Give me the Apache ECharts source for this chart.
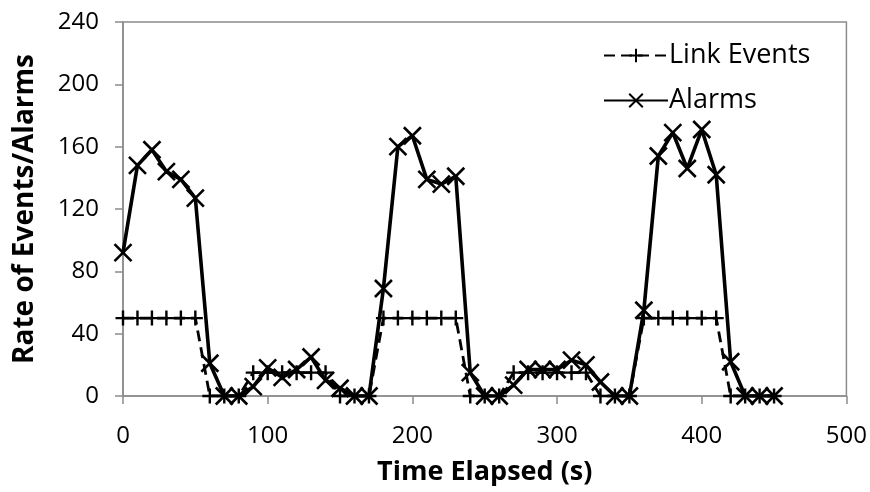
<!DOCTYPE html>
<html>
<head>
<meta charset="utf-8">
<script src="https://cdn.jsdelivr.net/npm/echarts@6/dist/echarts.min.js"></script>
<style>
html,body{margin:0;padding:0;background:#fff;}
#c{width:870px;height:492px;}
</style>
</head>
<body>
<div id="c"></div>
<script>
// Time (s)
var linkTimes = [0,10,20,30,40,50,60,70,80,90,100,110,120,130,140,150,160,170,180,190,200,210,220,230,240,250,260,270,280,290,300,310,320,330,340,350,360,370,380,390,400,410,420,430,440,450];
var linkEvents = [50,50,50,50,50,50,0,0,0,15,15,15,15,15,15,0,0,0,50,50,50,50,50,50,0,0,0,15,15,15,15,15,15,0,0,0,50,50,50,50,50,50,0,0,0,0];
var alarmTimes = [0,10,20,30,40,50,60,70,80,90,100,110,120,130,140,150,160,170,180,190,200,210,220,230,240,250,260,270,280,290,300,310,320,330,340,350,360,370,380,390,400,410,420,430,440,450];
var alarms = [92,148,158,144,139,127,21,0,0,6,18,12,17,25,10,5,0,0,69,160,167,139,136,141,15,0,0,7,17,17,17,23,20,9,0,0,55,154,169,146,171,142,22,0,0,0];
var xTicks = [0,100,200,300,400,500];
var yTicks = [0,40,80,120,160,200,240];

function pairs(xs, ys){ return xs.map(function(x,i){ return [x, ys[i]]; }); }

var FONT = 'Open Sans';
var chart = echarts.init(document.getElementById('c'), null, {renderer:'canvas'});
chart.setOption({
  animation:false,
  backgroundColor:'#fff',
  grid:{left:123, right:22, top:22, bottom:96, show:true, borderColor:'#8c8c8c', borderWidth:1.5, backgroundColor:'transparent'},
  legend:{
    orient:'vertical', left:598, top:37, itemGap:18, itemWidth:64, itemHeight:17,
    textStyle:{fontFamily:FONT, fontSize:27, color:'#000', padding:[0,0,0,-4]},
    data:['Link Events','Alarms']
  },
  xAxis:{
    type:'value', min:xTicks[0], max:xTicks[xTicks.length-1], interval:100,
    axisLine:{show:true, lineStyle:{color:'#8c8c8c', width:1.5}},
    axisTick:{show:true, length:8, lineStyle:{color:'#8c8c8c', width:1.5}},
    splitLine:{show:false},
    axisLabel:{fontFamily:FONT, fontSize:24, color:'#000', margin:28},
    name:'Time Elapsed (s)', nameLocation:'middle', nameGap:63,
    nameTextStyle:{fontFamily:FONT, fontSize:27, fontWeight:'bold', color:'#000'}
  },
  yAxis:{
    type:'value', min:yTicks[0], max:yTicks[yTicks.length-1], interval:40,
    axisLine:{show:true, lineStyle:{color:'#8c8c8c', width:1.5}},
    axisTick:{show:true, length:8, lineStyle:{color:'#8c8c8c', width:1.5}},
    splitLine:{show:false},
    axisLabel:{fontFamily:FONT, fontSize:24, color:'#000', margin:24},
    name:'Rate of Events/Alarms', nameLocation:'middle', nameGap:84,
    nameTextStyle:{fontFamily:FONT, fontSize:28, fontWeight:'bold', color:'#000'}
  },
  series:[
    {
      name:'Link Events', type:'line', data:pairs(linkTimes, linkEvents),
      symbol:'path://M5,0L5,10M0,5L10,5', symbolSize:15, showAllSymbol:true,
      lineStyle:{color:'#000', width:2.8, type:[11,6]},
      itemStyle:{color:'#000', borderColor:'#000', borderWidth:2.4},
      z:2
    },
    {
      name:'Alarms', type:'line', data:pairs(alarmTimes, alarms),
      symbol:'path://M0,0L10,10M10,0L0,10', symbolSize:17, showAllSymbol:true,
      lineStyle:{color:'#000', width:3.6},
      itemStyle:{color:'#000', borderColor:'#000', borderWidth:2.6},
      z:3
    }
  ]
});
</script>
</body>
</html>
